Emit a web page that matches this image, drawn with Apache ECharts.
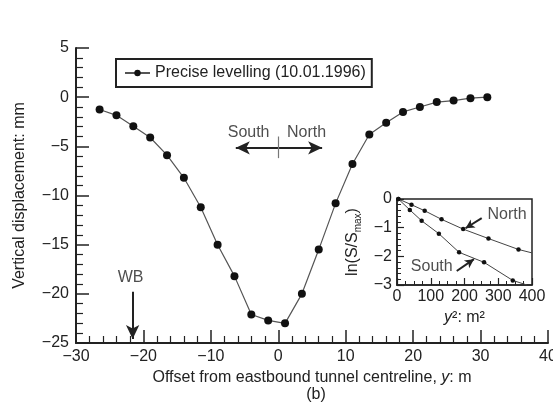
<!DOCTYPE html>
<html>
<head>
<meta charset="utf-8">
<script src="https://cdn.jsdelivr.net/npm/echarts@6/dist/echarts.min.js"></script>
<style>
  html, body { margin: 0; padding: 0; background: #fff; }
  #chart { width: 553px; height: 406px; }
</style>
</head>
<body>
<div id="chart"></div>
<script>
// Surface settlement trough, precise levelling survey
const offsets = [-26.5, -24, -21.5, -19, -16.5, -14, -11.5, -9, -6.5, -4, -1.5, 1,
                 3.5, 6, 8.5, 11, 13.5, 16, 18.5, 21, 23.5, 26, 28.5, 31];
const displacement = [-1.25, -1.85, -2.95, -4.1, -5.9, -8.2, -11.2, -15.0, -18.2, -22.1, -22.7, -23.0,
                      -20.0, -15.5, -10.8, -6.8, -3.8, -2.6, -1.5, -1.0, -0.5, -0.35, -0.1, 0.0];

// Inset: ln(S/Smax) against y^2 for each side of the trough
const northY2 = [4, 43, 82, 132, 196, 271, 360, 400];
const northLn = [0, -0.2, -0.41, -0.71, -1.05, -1.38, -1.76, -1.88];
const southY2 = [4, 38, 73, 124, 184, 258, 343, 385];
const southLn = [0, -0.38, -0.76, -1.21, -1.86, -2.21, -2.84, -3.0];

// Axis tick values
const mainXTicks = [-30, -20, -10, 0, 10, 20, 30, 40];
const mainYTicks = [-25, -20, -15, -10, -5, 0, 5];
const insetXTicks = [0, 100, 200, 300, 400];
const insetYTicks = [-3, -2, -1, 0];

// Annotation positions (data coordinates)
const wbOffset = -21.6;
const directionY = -5.15;

const FONT = 'Liberation Sans';
const INK = '#222';
const minus = v => String(v).replace('-', '\u2212');

function pairs(xs, ys) { return xs.map((x, i) => [x, ys[i]]); }
// the last point of each inset series only carries the line to the frame
function insetData(xs, ys) {
  return xs.map((x, i) => i === xs.length - 1
    ? { value: [x, ys[i]], symbol: 'none' }
    : [x, ys[i]]);
}

function axisBase(ticks, opts) {
  return Object.assign({
    type: 'value',
    min: ticks[0],
    max: ticks[ticks.length - 1],
    interval: ticks[1] - ticks[0],
    splitLine: { show: false },
    axisLine: { show: true, onZero: false, lineStyle: { color: INK, width: 2 } },
    axisTick: { show: true, inside: true, length: 13, lineStyle: { color: INK, width: 1.5 } },
    minorTick: { show: true, length: 7, lineStyle: { color: INK, width: 1.2 } },
    axisLabel: { color: INK, fontSize: 16, fontFamily: FONT, formatter: minus }
  }, opts);
}

const chart = echarts.init(document.getElementById('chart'), null, { renderer: 'canvas' });

const option = {
  animation: false,
  backgroundColor: '#fff',
  textStyle: { fontFamily: FONT, color: INK },
  legend: {
    data: ['Precise levelling (10.01.1996)'],
    left: 116, top: 59,
    padding: [6, 6, 6, 8],
    borderColor: INK, borderWidth: 2,
    itemWidth: 25, itemHeight: 8,
    textStyle: { fontSize: 16, color: INK, fontFamily: FONT }
  },
  grid: [
    { left: 76, right: 5, top: 48, bottom: 63, outerBoundsMode: 'none' },
    { left: 397, right: 21, top: 199, bottom: 121, show: true, outerBoundsMode: 'none',
      borderColor: INK, borderWidth: 1.5, backgroundColor: 'transparent' }
  ],
  xAxis: [
    axisBase(mainXTicks, {
      gridIndex: 0,
      minorTick: { show: true, splitNumber: 5, length: 7, lineStyle: { color: INK, width: 1.2 } },
      axisLabel: { color: INK, fontSize: 16, fontFamily: FONT, formatter: minus, margin: 6,
                   showMaxLabel: true },
      name: 'Offset from eastbound tunnel centreline, {i|y}: m',
      nameLocation: 'middle', nameGap: 27,
      nameTextStyle: { fontSize: 16, color: INK, fontFamily: FONT,
                       rich: { i: { fontStyle: 'italic', fontSize: 16, fontFamily: FONT, color: INK } } }
    }),
    axisBase(insetXTicks, {
      gridIndex: 1,
      axisLine: { show: true, onZero: false, lineStyle: { color: INK, width: 1.5 } },
      axisTick: { show: true, inside: true, length: 7, lineStyle: { color: INK, width: 1.2 } },
      minorTick: { show: true, splitNumber: 4, length: 4, lineStyle: { color: INK, width: 1 } },
      axisLabel: { color: INK, fontSize: 16, fontFamily: FONT, margin: 4, formatter: minus },
      name: '{i|y}\u00b2: m\u00b2',
      nameLocation: 'middle', nameGap: 25,
      nameTextStyle: { fontSize: 16, color: INK, fontFamily: FONT,
                       rich: { i: { fontStyle: 'italic', fontSize: 16, fontFamily: FONT, color: INK } } }
    })
  ],
  yAxis: [
    axisBase(mainYTicks, {
      gridIndex: 0,
      minorTick: { show: true, splitNumber: 5, length: 7, lineStyle: { color: INK, width: 1.2 } },
      axisLabel: { color: INK, fontSize: 16, fontFamily: FONT, formatter: minus, margin: 7 },
      name: 'Vertical displacement: mm',
      nameLocation: 'middle', nameGap: 48,
      nameTextStyle: { fontSize: 16, color: INK, fontFamily: FONT }
    }),
    axisBase(insetYTicks, {
      gridIndex: 1,
      axisLine: { show: true, onZero: false, lineStyle: { color: INK, width: 1.5 } },
      axisTick: { show: true, inside: true, length: 7, lineStyle: { color: INK, width: 1.2 } },
      minorTick: { show: true, splitNumber: 5, length: 4, lineStyle: { color: INK, width: 1 } },
      axisLabel: { color: INK, fontSize: 16, fontFamily: FONT, formatter: minus, margin: 5 },
      name: 'ln(S/S{sub|max})',
      nameLocation: 'middle', nameGap: 34,
      nameTextStyle: { fontSize: 16, color: INK, fontFamily: FONT, lineHeight: 20,
                       rich: { sub: { fontSize: 10, fontFamily: FONT, color: INK,
                                      lineHeight: 20, verticalAlign: 'bottom' } } }
    })
  ],
  graphic: [
    { type: 'text', x: 316, y: 395,
      style: { text: '(b)', fontSize: 16, fontFamily: FONT, fill: INK,
               textAlign: 'center', textVerticalAlign: 'middle' } }
  ],
  series: [
    {
      name: 'Precise levelling (10.01.1996)',
      type: 'line',
      xAxisIndex: 0, yAxisIndex: 0,
      data: pairs(offsets, displacement),
      symbol: 'circle', symbolSize: 8,
      lineStyle: { color: '#555', width: 1.2 },
      itemStyle: { color: '#111' },
      markLine: {
        silent: true,
        animation: false,
        label: { show: false },
        lineStyle: { color: INK, width: 2, type: 'solid' },
        symbol: ['arrow', 'arrow'],
        symbolSize: [10, 14],
        data: [
          [{ coord: [-6.3, directionY] }, { coord: [6.5, directionY] }],
          [{ coord: [0, -4.0], symbol: 'none', lineStyle: { color: '#777', width: 1.2 } },
           { coord: [0, -6.2], symbol: 'none' }],
          [{ coord: [wbOffset, -19.8], symbol: 'none' },
           { coord: [wbOffset, -24.6], symbol: 'arrow' }]
        ]
      }
    },
    {
      name: 'mainNotes',
      type: 'scatter',
      xAxisIndex: 0, yAxisIndex: 0,
      silent: true,
      symbolSize: 0,
      data: [
        { name: 'South', value: [-4.4, -3.6] },
        { name: 'North', value: [4.2, -3.65] },
        { name: 'WB', value: [wbOffset - 0.3, -18.3] }
      ],
      label: { show: true, position: 'inside', formatter: '{b}', fontSize: 16,
               color: INK, fontFamily: FONT }
    },
    {
      name: 'North',
      type: 'line',
      xAxisIndex: 1, yAxisIndex: 1,
      data: insetData(northY2, northLn),
      symbol: 'circle', symbolSize: 4.5,
      lineStyle: { color: '#444', width: 1 },
      itemStyle: { color: '#111' },
      markLine: {
        silent: true, animation: false,
        label: { show: false },
        lineStyle: { color: INK, width: 2, type: 'solid' },
        symbol: ['none', 'arrow'], symbolSize: [7, 9],
        data: [[{ coord: [251, -0.67] }, { coord: [203, -1.02] }]]
      }
    },
    {
      name: 'South',
      type: 'line',
      xAxisIndex: 1, yAxisIndex: 1,
      data: insetData(southY2, southLn),
      symbol: 'circle', symbolSize: 4.5,
      lineStyle: { color: '#444', width: 1 },
      itemStyle: { color: '#111' },
      markLine: {
        silent: true, animation: false,
        label: { show: false },
        lineStyle: { color: INK, width: 2, type: 'solid' },
        symbol: ['none', 'arrow'], symbolSize: [7, 9],
        data: [[{ coord: [177, -2.51] }, { coord: [228, -2.1] }]]
      }
    },
    {
      name: 'insetNotes',
      type: 'scatter',
      xAxisIndex: 1, yAxisIndex: 1,
      silent: true,
      symbolSize: 0,
      data: [
        { name: 'North', value: [326, -0.56] },
        { name: 'South', value: [103, -2.37] }
      ],
      label: { show: true, position: 'inside', formatter: '{b}', fontSize: 16,
               color: INK, fontFamily: FONT }
    }
  ]
};

chart.setOption(option);
</script>
</body>
</html>
